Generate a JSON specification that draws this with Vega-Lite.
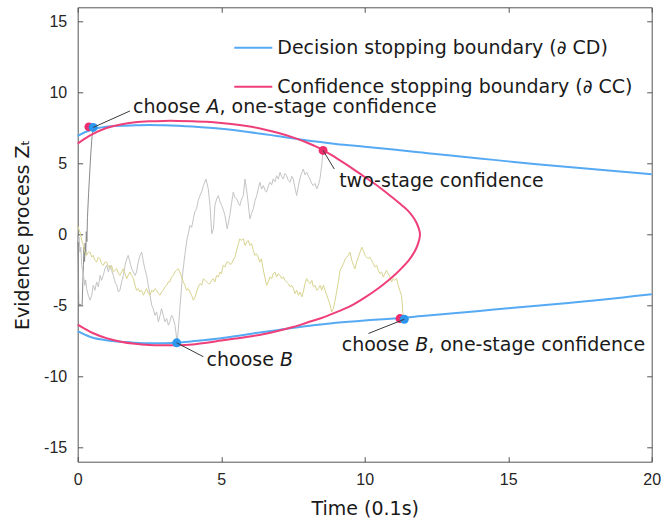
{
"$schema": "https://vega.github.io/schema/vega-lite/v6.json",
"width": 574, "height": 454.4,
"autosize": "none",
"padding": {"left": 77.7, "top": 7.3, "right": 12.3, "bottom": 59.3},
"background": "white",
"config": {
 "view": {"stroke": null},
 "axis": {"grid": false, "domainColor": "#555555", "tickColor": "#555555", "labelColor": "#262626", "titleColor": "#1a1a1a", "labelFont": "Liberation Sans", "labelFontSize": 16, "titleFont": "DejaVu Sans", "titleFontSize": 19, "titleFontWeight": "normal", "tickSize": -5, "domainWidth": 1, "tickWidth": 1, "labelFlush": false}
},
"datasets": {
 "bounds": [
  {"c":"Decision stopping boundary (∂ CD)","s":"u","i":0,"t":0,"z":6.95},{"c":"Decision stopping boundary (∂ CD)","s":"u","i":1,"t":0.25,"z":7.2},{"c":"Decision stopping boundary (∂ CD)","s":"u","i":2,"t":0.5,"z":7.4},{"c":"Decision stopping boundary (∂ CD)","s":"u","i":3,"t":1,"z":7.58},{"c":"Decision stopping boundary (∂ CD)","s":"u","i":4,"t":1.5,"z":7.66},{"c":"Decision stopping boundary (∂ CD)","s":"u","i":5,"t":2,"z":7.7},{"c":"Decision stopping boundary (∂ CD)","s":"u","i":6,"t":2.5,"z":7.72},{"c":"Decision stopping boundary (∂ CD)","s":"u","i":7,"t":3,"z":7.7},{"c":"Decision stopping boundary (∂ CD)","s":"u","i":8,"t":3.5,"z":7.66},{"c":"Decision stopping boundary (∂ CD)","s":"u","i":9,"t":4,"z":7.6},{"c":"Decision stopping boundary (∂ CD)","s":"u","i":10,"t":5,"z":7.44},{"c":"Decision stopping boundary (∂ CD)","s":"u","i":11,"t":6,"z":7.2},{"c":"Decision stopping boundary (∂ CD)","s":"u","i":12,"t":7,"z":6.92},{"c":"Decision stopping boundary (∂ CD)","s":"u","i":13,"t":8,"z":6.62},{"c":"Decision stopping boundary (∂ CD)","s":"u","i":14,"t":9,"z":6.38},{"c":"Decision stopping boundary (∂ CD)","s":"u","i":15,"t":10,"z":6.18},{"c":"Decision stopping boundary (∂ CD)","s":"u","i":16,"t":11,"z":5.98},{"c":"Decision stopping boundary (∂ CD)","s":"u","i":17,"t":12,"z":5.77},{"c":"Decision stopping boundary (∂ CD)","s":"u","i":18,"t":13,"z":5.56},{"c":"Decision stopping boundary (∂ CD)","s":"u","i":19,"t":14,"z":5.36},{"c":"Decision stopping boundary (∂ CD)","s":"u","i":20,"t":15,"z":5.15},{"c":"Decision stopping boundary (∂ CD)","s":"u","i":21,"t":16,"z":4.95},{"c":"Decision stopping boundary (∂ CD)","s":"u","i":22,"t":17,"z":4.77},{"c":"Decision stopping boundary (∂ CD)","s":"u","i":23,"t":18,"z":4.6},{"c":"Decision stopping boundary (∂ CD)","s":"u","i":24,"t":19,"z":4.42},{"c":"Decision stopping boundary (∂ CD)","s":"u","i":25,"t":20,"z":4.25},
  {"c":"Decision stopping boundary (∂ CD)","s":"l","i":0,"t":0,"z":-6.8},{"c":"Decision stopping boundary (∂ CD)","s":"l","i":1,"t":0.25,"z":-7.05},{"c":"Decision stopping boundary (∂ CD)","s":"l","i":2,"t":0.5,"z":-7.25},{"c":"Decision stopping boundary (∂ CD)","s":"l","i":3,"t":1,"z":-7.45},{"c":"Decision stopping boundary (∂ CD)","s":"l","i":4,"t":1.5,"z":-7.56},{"c":"Decision stopping boundary (∂ CD)","s":"l","i":5,"t":2,"z":-7.62},{"c":"Decision stopping boundary (∂ CD)","s":"l","i":6,"t":2.5,"z":-7.66},{"c":"Decision stopping boundary (∂ CD)","s":"l","i":7,"t":3,"z":-7.66},{"c":"Decision stopping boundary (∂ CD)","s":"l","i":8,"t":3.5,"z":-7.62},{"c":"Decision stopping boundary (∂ CD)","s":"l","i":9,"t":4,"z":-7.52},{"c":"Decision stopping boundary (∂ CD)","s":"l","i":10,"t":5,"z":-7.3},{"c":"Decision stopping boundary (∂ CD)","s":"l","i":11,"t":6,"z":-7.0},{"c":"Decision stopping boundary (∂ CD)","s":"l","i":12,"t":7,"z":-6.72},{"c":"Decision stopping boundary (∂ CD)","s":"l","i":13,"t":8,"z":-6.45},{"c":"Decision stopping boundary (∂ CD)","s":"l","i":14,"t":9,"z":-6.22},{"c":"Decision stopping boundary (∂ CD)","s":"l","i":15,"t":10,"z":-6.05},{"c":"Decision stopping boundary (∂ CD)","s":"l","i":16,"t":11,"z":-5.92},{"c":"Decision stopping boundary (∂ CD)","s":"l","i":17,"t":12,"z":-5.74},{"c":"Decision stopping boundary (∂ CD)","s":"l","i":18,"t":13,"z":-5.56},{"c":"Decision stopping boundary (∂ CD)","s":"l","i":19,"t":14,"z":-5.38},{"c":"Decision stopping boundary (∂ CD)","s":"l","i":20,"t":15,"z":-5.2},{"c":"Decision stopping boundary (∂ CD)","s":"l","i":21,"t":16,"z":-5.02},{"c":"Decision stopping boundary (∂ CD)","s":"l","i":22,"t":17,"z":-4.84},{"c":"Decision stopping boundary (∂ CD)","s":"l","i":23,"t":18,"z":-4.64},{"c":"Decision stopping boundary (∂ CD)","s":"l","i":24,"t":19,"z":-4.43},{"c":"Decision stopping boundary (∂ CD)","s":"l","i":25,"t":20,"z":-4.2},
  {"c":"Confidence stopping boundary (∂ CC)","s":"c","i":0,"t":0,"z":6.4},{"c":"Confidence stopping boundary (∂ CC)","s":"c","i":1,"t":0.25,"z":6.75},{"c":"Confidence stopping boundary (∂ CC)","s":"c","i":2,"t":0.5,"z":7.05},{"c":"Confidence stopping boundary (∂ CC)","s":"c","i":3,"t":1,"z":7.5},{"c":"Confidence stopping boundary (∂ CC)","s":"c","i":4,"t":1.5,"z":7.75},{"c":"Confidence stopping boundary (∂ CC)","s":"c","i":5,"t":2,"z":7.9},{"c":"Confidence stopping boundary (∂ CC)","s":"c","i":6,"t":2.5,"z":7.97},{"c":"Confidence stopping boundary (∂ CC)","s":"c","i":7,"t":3,"z":8.0},{"c":"Confidence stopping boundary (∂ CC)","s":"c","i":8,"t":3.5,"z":8.0},{"c":"Confidence stopping boundary (∂ CC)","s":"c","i":9,"t":4,"z":7.98},{"c":"Confidence stopping boundary (∂ CC)","s":"c","i":10,"t":4.5,"z":7.94},{"c":"Confidence stopping boundary (∂ CC)","s":"c","i":11,"t":5,"z":7.86},{"c":"Confidence stopping boundary (∂ CC)","s":"c","i":12,"t":5.5,"z":7.75},{"c":"Confidence stopping boundary (∂ CC)","s":"c","i":13,"t":6,"z":7.6},{"c":"Confidence stopping boundary (∂ CC)","s":"c","i":14,"t":6.5,"z":7.4},{"c":"Confidence stopping boundary (∂ CC)","s":"c","i":15,"t":7,"z":7.15},{"c":"Confidence stopping boundary (∂ CC)","s":"c","i":16,"t":7.5,"z":6.84},{"c":"Confidence stopping boundary (∂ CC)","s":"c","i":17,"t":8,"z":6.46},{"c":"Confidence stopping boundary (∂ CC)","s":"c","i":18,"t":8.55,"z":5.95},{"c":"Confidence stopping boundary (∂ CC)","s":"c","i":19,"t":9,"z":5.4},{"c":"Confidence stopping boundary (∂ CC)","s":"c","i":20,"t":9.5,"z":4.75},{"c":"Confidence stopping boundary (∂ CC)","s":"c","i":21,"t":10,"z":4.05},{"c":"Confidence stopping boundary (∂ CC)","s":"c","i":22,"t":10.5,"z":3.35},{"c":"Confidence stopping boundary (∂ CC)","s":"c","i":23,"t":11,"z":2.55},{"c":"Confidence stopping boundary (∂ CC)","s":"c","i":24,"t":11.3,"z":2.05},{"c":"Confidence stopping boundary (∂ CC)","s":"c","i":25,"t":11.52,"z":1.65},{"c":"Confidence stopping boundary (∂ CC)","s":"c","i":26,"t":11.68,"z":1.25},{"c":"Confidence stopping boundary (∂ CC)","s":"c","i":27,"t":11.8,"z":0.85},{"c":"Confidence stopping boundary (∂ CC)","s":"c","i":28,"t":11.88,"z":0.45},{"c":"Confidence stopping boundary (∂ CC)","s":"c","i":29,"t":11.915,"z":0.2},{"c":"Confidence stopping boundary (∂ CC)","s":"c","i":30,"t":11.925,"z":0},{"c":"Confidence stopping boundary (∂ CC)","s":"c","i":31,"t":11.915,"z":-0.22},{"c":"Confidence stopping boundary (∂ CC)","s":"c","i":32,"t":11.88,"z":-0.5},{"c":"Confidence stopping boundary (∂ CC)","s":"c","i":33,"t":11.8,"z":-0.95},{"c":"Confidence stopping boundary (∂ CC)","s":"c","i":34,"t":11.68,"z":-1.4},{"c":"Confidence stopping boundary (∂ CC)","s":"c","i":35,"t":11.52,"z":-1.85},{"c":"Confidence stopping boundary (∂ CC)","s":"c","i":36,"t":11.32,"z":-2.3},{"c":"Confidence stopping boundary (∂ CC)","s":"c","i":37,"t":11.1,"z":-2.75},{"c":"Confidence stopping boundary (∂ CC)","s":"c","i":38,"t":10.9,"z":-3.1},{"c":"Confidence stopping boundary (∂ CC)","s":"c","i":39,"t":10.5,"z":-3.75},{"c":"Confidence stopping boundary (∂ CC)","s":"c","i":40,"t":10,"z":-4.45},{"c":"Confidence stopping boundary (∂ CC)","s":"c","i":41,"t":9.5,"z":-5.05},{"c":"Confidence stopping boundary (∂ CC)","s":"c","i":42,"t":9,"z":-5.48},{"c":"Confidence stopping boundary (∂ CC)","s":"c","i":43,"t":8.5,"z":-5.88},{"c":"Confidence stopping boundary (∂ CC)","s":"c","i":44,"t":8,"z":-6.2},{"c":"Confidence stopping boundary (∂ CC)","s":"c","i":45,"t":7.5,"z":-6.52},{"c":"Confidence stopping boundary (∂ CC)","s":"c","i":46,"t":7,"z":-6.78},{"c":"Confidence stopping boundary (∂ CC)","s":"c","i":47,"t":6.5,"z":-7.0},{"c":"Confidence stopping boundary (∂ CC)","s":"c","i":48,"t":6,"z":-7.18},{"c":"Confidence stopping boundary (∂ CC)","s":"c","i":49,"t":5.5,"z":-7.33},{"c":"Confidence stopping boundary (∂ CC)","s":"c","i":50,"t":5,"z":-7.47},{"c":"Confidence stopping boundary (∂ CC)","s":"c","i":51,"t":4.5,"z":-7.62},{"c":"Confidence stopping boundary (∂ CC)","s":"c","i":52,"t":4,"z":-7.74},{"c":"Confidence stopping boundary (∂ CC)","s":"c","i":53,"t":3.5,"z":-7.8},{"c":"Confidence stopping boundary (∂ CC)","s":"c","i":54,"t":3,"z":-7.8},{"c":"Confidence stopping boundary (∂ CC)","s":"c","i":55,"t":2.5,"z":-7.78},{"c":"Confidence stopping boundary (∂ CC)","s":"c","i":56,"t":2,"z":-7.7},{"c":"Confidence stopping boundary (∂ CC)","s":"c","i":57,"t":1.5,"z":-7.55},{"c":"Confidence stopping boundary (∂ CC)","s":"c","i":58,"t":1,"z":-7.3},{"c":"Confidence stopping boundary (∂ CC)","s":"c","i":59,"t":0.5,"z":-6.92},{"c":"Confidence stopping boundary (∂ CC)","s":"c","i":60,"t":0.25,"z":-6.65},{"c":"Confidence stopping boundary (∂ CC)","s":"c","i":61,"t":0,"z":-6.35}
 ],
 "traces": [
  {"k":"d","t":0,"z":0},{"k":"d","t":0.02,"z":-2.1},{"k":"d","t":0.035,"z":-4.95},{"k":"d","t":0.08,"z":-4.9},{"k":"d","t":0.12,"z":-5.0},{"k":"d","t":0.155,"z":-4.95},{"k":"d","t":0.18,"z":-3.3},{"k":"d","t":0.2,"z":-2.1},{"k":"d","t":0.22,"z":-0.9},{"k":"d","t":0.24,"z":-1.9},{"k":"d","t":0.26,"z":-0.6},{"k":"d","t":0.28,"z":-1.4},{"k":"d","t":0.3,"z":0.2},{"k":"d","t":0.32,"z":-0.5},{"k":"d","t":0.34,"z":1.2},{"k":"d","t":0.38,"z":2.9},{"k":"d","t":0.42,"z":4.4},{"k":"d","t":0.46,"z":5.8},{"k":"d","t":0.5,"z":6.9},{"k":"d","t":0.54,"z":7.54},
  {"k":"l","t":0,"z":0},{"k":"l","t":0.02,"z":-0.53},{"k":"l","t":0.05,"z":-0.2},{"k":"l","t":0.08,"z":-1.24},{"k":"l","t":0.11,"z":-0.9},{"k":"l","t":0.14,"z":-2.17},{"k":"l","t":0.2,"z":-2.88},{"k":"l","t":0.25,"z":-3.58},{"k":"l","t":0.28,"z":-3.2},{"k":"l","t":0.31,"z":-3.81},{"k":"l","t":0.37,"z":-4.28},{"k":"l","t":0.43,"z":-4.63},{"k":"l","t":0.49,"z":-4.28},{"k":"l","t":0.54,"z":-3.58},{"k":"l","t":0.6,"z":-3.93},{"k":"l","t":0.66,"z":-3.34},{"k":"l","t":0.72,"z":-3.69},{"k":"l","t":0.78,"z":-2.88},{"k":"l","t":0.83,"z":-3.23},{"k":"l","t":0.89,"z":-2.88},{"k":"l","t":0.95,"z":-2.41},{"k":"l","t":1.01,"z":-2.17},{"k":"l","t":1.07,"z":-2.64},{"k":"l","t":1.13,"z":-2.17},{"k":"l","t":1.18,"z":-2.52},{"k":"l","t":1.24,"z":-2.88},{"k":"l","t":1.3,"z":-3.34},{"k":"l","t":1.36,"z":-3.58},{"k":"l","t":1.42,"z":-4.05},{"k":"l","t":1.47,"z":-3.93},{"k":"l","t":1.53,"z":-3.34},{"k":"l","t":1.59,"z":-2.88},{"k":"l","t":1.65,"z":-2.17},{"k":"l","t":1.71,"z":-1.71},{"k":"l","t":1.76,"z":-1.47},{"k":"l","t":1.82,"z":-1.94},{"k":"l","t":1.88,"z":-2.41},{"k":"l","t":1.94,"z":-2.64},{"k":"l","t":2.0,"z":-2.88},{"k":"l","t":2.05,"z":-2.64},{"k":"l","t":2.11,"z":-1.94},{"k":"l","t":2.17,"z":-1.47},{"k":"l","t":2.23,"z":-1.24},{"k":"l","t":2.29,"z":-1.94},{"k":"l","t":2.34,"z":-2.41},{"k":"l","t":2.4,"z":-2.88},{"k":"l","t":2.46,"z":-3.58},{"k":"l","t":2.52,"z":-4.28},{"k":"l","t":2.58,"z":-4.99},{"k":"l","t":2.63,"z":-5.22},{"k":"l","t":2.69,"z":-5.69},{"k":"l","t":2.75,"z":-5.45},{"k":"l","t":2.81,"z":-6.15},{"k":"l","t":2.87,"z":-5.69},{"k":"l","t":2.92,"z":-5.22},{"k":"l","t":2.98,"z":-5.69},{"k":"l","t":3.04,"z":-6.15},{"k":"l","t":3.1,"z":-5.92},{"k":"l","t":3.16,"z":-6.39},{"k":"l","t":3.21,"z":-6.15},{"k":"l","t":3.27,"z":-5.69},{"k":"l","t":3.33,"z":-5.92},{"k":"l","t":3.39,"z":-6.39},{"k":"l","t":3.47,"z":-7.63},{"k":"l","t":3.56,"z":-5.22},{"k":"l","t":3.65,"z":-2.88},{"k":"l","t":3.73,"z":-1.47},{"k":"l","t":3.81,"z":-0.3},{"k":"l","t":3.86,"z":0.1},{"k":"l","t":3.91,"z":0.64},{"k":"l","t":3.97,"z":0.5},{"k":"l","t":4.03,"z":1.1},{"k":"l","t":4.08,"z":1.6},{"k":"l","t":4.14,"z":1.81},{"k":"l","t":4.2,"z":2.4},{"k":"l","t":4.26,"z":2.74},{"k":"l","t":4.32,"z":3.0},{"k":"l","t":4.38,"z":3.44},{"k":"l","t":4.47,"z":3.91},{"k":"l","t":4.55,"z":3.21},{"k":"l","t":4.61,"z":2.04},{"k":"l","t":4.67,"z":0.05},{"k":"l","t":4.73,"z":0.4},{"k":"l","t":4.78,"z":2.04},{"k":"l","t":4.84,"z":2.5},{"k":"l","t":4.9,"z":2.74},{"k":"l","t":4.96,"z":2.3},{"k":"l","t":5.02,"z":2.04},{"k":"l","t":5.08,"z":1.7},{"k":"l","t":5.13,"z":1.34},{"k":"l","t":5.21,"z":0.4},{"k":"l","t":5.3,"z":1.34},{"k":"l","t":5.36,"z":2.2},{"k":"l","t":5.42,"z":2.98},{"k":"l","t":5.48,"z":2.6},{"k":"l","t":5.54,"z":2.51},{"k":"l","t":5.6,"z":2.2},{"k":"l","t":5.65,"z":2.04},{"k":"l","t":5.71,"z":2.5},{"k":"l","t":5.77,"z":2.74},{"k":"l","t":5.83,"z":3.91},{"k":"l","t":5.91,"z":2.74},{"k":"l","t":6.0,"z":1.1},{"k":"l","t":6.06,"z":1.5},{"k":"l","t":6.12,"z":1.81},{"k":"l","t":6.18,"z":2.4},{"k":"l","t":6.24,"z":2.74},{"k":"l","t":6.3,"z":3.3},{"k":"l","t":6.35,"z":3.68},{"k":"l","t":6.41,"z":3.2},{"k":"l","t":6.47,"z":3.44},{"k":"l","t":6.53,"z":3.1},{"k":"l","t":6.58,"z":2.98},{"k":"l","t":6.64,"z":3.4},{"k":"l","t":6.7,"z":3.68},{"k":"l","t":6.76,"z":3.5},{"k":"l","t":6.81,"z":3.91},{"k":"l","t":6.87,"z":3.7},{"k":"l","t":6.93,"z":4.14},{"k":"l","t":6.99,"z":3.9},{"k":"l","t":7.05,"z":4.38},{"k":"l","t":7.1,"z":4.1},{"k":"l","t":7.16,"z":3.91},{"k":"l","t":7.22,"z":4.3},{"k":"l","t":7.28,"z":4.14},{"k":"l","t":7.34,"z":3.8},{"k":"l","t":7.4,"z":3.68},{"k":"l","t":7.46,"z":4.1},{"k":"l","t":7.51,"z":3.91},{"k":"l","t":7.57,"z":3.3},{"k":"l","t":7.63,"z":2.74},{"k":"l","t":7.69,"z":3.4},{"k":"l","t":7.74,"z":3.91},{"k":"l","t":7.8,"z":4.3},{"k":"l","t":7.86,"z":4.61},{"k":"l","t":7.92,"z":4.2},{"k":"l","t":7.98,"z":4.38},{"k":"l","t":8.04,"z":4.1},{"k":"l","t":8.09,"z":3.91},{"k":"l","t":8.15,"z":3.6},{"k":"l","t":8.21,"z":3.44},{"k":"l","t":8.27,"z":3.6},{"k":"l","t":8.33,"z":3.21},{"k":"l","t":8.39,"z":3.5},{"k":"l","t":8.44,"z":3.91},{"k":"l","t":8.5,"z":4.84},{"k":"l","t":8.55,"z":5.92},
  {"k":"y","t":0,"z":0.63},{"k":"y","t":0.03,"z":0.4},{"k":"y","t":0.08,"z":0.17},{"k":"y","t":0.14,"z":-0.42},{"k":"y","t":0.2,"z":-0.77},{"k":"y","t":0.25,"z":-1.24},{"k":"y","t":0.31,"z":-1.47},{"k":"y","t":0.37,"z":-1.24},{"k":"y","t":0.43,"z":-1.24},{"k":"y","t":0.49,"z":-1.59},{"k":"y","t":0.54,"z":-1.47},{"k":"y","t":0.6,"z":-1.82},{"k":"y","t":0.66,"z":-1.94},{"k":"y","t":0.72,"z":-1.59},{"k":"y","t":0.78,"z":-1.71},{"k":"y","t":0.83,"z":-2.06},{"k":"y","t":0.89,"z":-2.17},{"k":"y","t":0.95,"z":-1.94},{"k":"y","t":1.01,"z":-1.94},{"k":"y","t":1.07,"z":-2.29},{"k":"y","t":1.13,"z":-2.41},{"k":"y","t":1.18,"z":-2.17},{"k":"y","t":1.24,"z":-2.64},{"k":"y","t":1.3,"z":-2.52},{"k":"y","t":1.36,"z":-2.41},{"k":"y","t":1.42,"z":-2.76},{"k":"y","t":1.47,"z":-2.88},{"k":"y","t":1.53,"z":-2.64},{"k":"y","t":1.59,"z":-2.41},{"k":"y","t":1.65,"z":-2.76},{"k":"y","t":1.71,"z":-3.11},{"k":"y","t":1.76,"z":-2.88},{"k":"y","t":1.82,"z":-2.64},{"k":"y","t":1.88,"z":-2.88},{"k":"y","t":1.94,"z":-3.11},{"k":"y","t":2.0,"z":-3.58},{"k":"y","t":2.05,"z":-3.93},{"k":"y","t":2.11,"z":-3.81},{"k":"y","t":2.17,"z":-4.05},{"k":"y","t":2.23,"z":-3.93},{"k":"y","t":2.29,"z":-4.28},{"k":"y","t":2.34,"z":-4.05},{"k":"y","t":2.4,"z":-3.81},{"k":"y","t":2.46,"z":-4.16},{"k":"y","t":2.52,"z":-4.28},{"k":"y","t":2.58,"z":-3.93},{"k":"y","t":2.63,"z":-4.05},{"k":"y","t":2.69,"z":-3.81},{"k":"y","t":2.75,"z":-3.93},{"k":"y","t":2.81,"z":-4.16},{"k":"y","t":2.87,"z":-4.28},{"k":"y","t":2.92,"z":-4.05},{"k":"y","t":2.98,"z":-3.93},{"k":"y","t":3.04,"z":-3.69},{"k":"y","t":3.1,"z":-3.58},{"k":"y","t":3.16,"z":-3.34},{"k":"y","t":3.21,"z":-3.34},{"k":"y","t":3.27,"z":-2.99},{"k":"y","t":3.33,"z":-2.88},{"k":"y","t":3.39,"z":-2.64},{"k":"y","t":3.44,"z":-2.52},{"k":"y","t":3.5,"z":-2.41},{"k":"y","t":3.56,"z":-2.64},{"k":"y","t":3.62,"z":-2.99},{"k":"y","t":3.68,"z":-3.34},{"k":"y","t":3.74,"z":-3.58},{"k":"y","t":3.79,"z":-3.93},{"k":"y","t":3.85,"z":-3.81},{"k":"y","t":3.91,"z":-4.05},{"k":"y","t":3.97,"z":-4.28},{"k":"y","t":4.03,"z":-4.63},{"k":"y","t":4.09,"z":-4.4},{"k":"y","t":4.14,"z":-4.05},{"k":"y","t":4.2,"z":-3.69},{"k":"y","t":4.26,"z":-3.46},{"k":"y","t":4.32,"z":-3.58},{"k":"y","t":4.38,"z":-3.11},{"k":"y","t":4.44,"z":-3.23},{"k":"y","t":4.49,"z":-3.34},{"k":"y","t":4.55,"z":-3.46},{"k":"y","t":4.61,"z":-3.46},{"k":"y","t":4.67,"z":-3.23},{"k":"y","t":4.72,"z":-3.11},{"k":"y","t":4.78,"z":-3.34},{"k":"y","t":4.84,"z":-2.88},{"k":"y","t":4.9,"z":-2.99},{"k":"y","t":4.96,"z":-2.64},{"k":"y","t":5.01,"z":-2.76},{"k":"y","t":5.07,"z":-2.17},{"k":"y","t":5.13,"z":-2.29},{"k":"y","t":5.19,"z":-1.94},{"k":"y","t":5.25,"z":-1.94},{"k":"y","t":5.3,"z":-2.1},{"k":"y","t":5.36,"z":-2.06},{"k":"y","t":5.42,"z":-1.8},{"k":"y","t":5.48,"z":-1.59},{"k":"y","t":5.54,"z":-1.1},{"k":"y","t":5.6,"z":-0.65},{"k":"y","t":5.65,"z":-0.3},{"k":"y","t":5.71,"z":-0.42},{"k":"y","t":5.77,"z":-0.3},{"k":"y","t":5.83,"z":-0.77},{"k":"y","t":5.89,"z":-0.53},{"k":"y","t":5.94,"z":-0.42},{"k":"y","t":6.0,"z":-0.77},{"k":"y","t":6.06,"z":-0.65},{"k":"y","t":6.12,"z":-1.12},{"k":"y","t":6.17,"z":-1.47},{"k":"y","t":6.23,"z":-1.36},{"k":"y","t":6.29,"z":-1.59},{"k":"y","t":6.34,"z":-1.94},{"k":"y","t":6.4,"z":-1.71},{"k":"y","t":6.46,"z":-2.41},{"k":"y","t":6.52,"z":-2.99},{"k":"y","t":6.58,"z":-3.58},{"k":"y","t":6.64,"z":-3.34},{"k":"y","t":6.7,"z":-2.99},{"k":"y","t":6.76,"z":-3.11},{"k":"y","t":6.81,"z":-2.76},{"k":"y","t":6.87,"z":-2.64},{"k":"y","t":6.93,"z":-2.99},{"k":"y","t":6.99,"z":-2.76},{"k":"y","t":7.05,"z":-2.88},{"k":"y","t":7.11,"z":-3.11},{"k":"y","t":7.17,"z":-2.99},{"k":"y","t":7.22,"z":-3.23},{"k":"y","t":7.28,"z":-3.34},{"k":"y","t":7.34,"z":-3.46},{"k":"y","t":7.4,"z":-3.69},{"k":"y","t":7.46,"z":-3.58},{"k":"y","t":7.52,"z":-3.81},{"k":"y","t":7.57,"z":-4.16},{"k":"y","t":7.63,"z":-3.93},{"k":"y","t":7.69,"z":-4.28},{"k":"y","t":7.75,"z":-4.05},{"k":"y","t":7.81,"z":-4.4},{"k":"y","t":7.86,"z":-4.05},{"k":"y","t":7.92,"z":-3.46},{"k":"y","t":7.98,"z":-3.11},{"k":"y","t":8.04,"z":-3.34},{"k":"y","t":8.1,"z":-3.46},{"k":"y","t":8.16,"z":-3.23},{"k":"y","t":8.21,"z":-3.69},{"k":"y","t":8.27,"z":-3.58},{"k":"y","t":8.33,"z":-3.93},{"k":"y","t":8.39,"z":-3.81},{"k":"y","t":8.45,"z":-3.58},{"k":"y","t":8.5,"z":-3.93},{"k":"y","t":8.56,"z":-3.58},{"k":"y","t":8.62,"z":-3.93},{"k":"y","t":8.68,"z":-4.28},{"k":"y","t":8.74,"z":-4.63},{"k":"y","t":8.8,"z":-4.99},{"k":"y","t":8.85,"z":-5.45},{"k":"y","t":8.91,"z":-5.22},{"k":"y","t":8.97,"z":-4.63},{"k":"y","t":9.03,"z":-3.93},{"k":"y","t":9.09,"z":-3.23},{"k":"y","t":9.14,"z":-2.52},{"k":"y","t":9.2,"z":-2.29},{"k":"y","t":9.26,"z":-2.06},{"k":"y","t":9.32,"z":-1.71},{"k":"y","t":9.38,"z":-1.59},{"k":"y","t":9.43,"z":-1.47},{"k":"y","t":9.49,"z":-1.24},{"k":"y","t":9.55,"z":-1.82},{"k":"y","t":9.61,"z":-2.17},{"k":"y","t":9.66,"z":-2.41},{"k":"y","t":9.72,"z":-1.94},{"k":"y","t":9.78,"z":-1.59},{"k":"y","t":9.84,"z":-1.24},{"k":"y","t":9.9,"z":-0.89},{"k":"y","t":9.95,"z":-1.12},{"k":"y","t":10.01,"z":-1.47},{"k":"y","t":10.07,"z":-1.59},{"k":"y","t":10.13,"z":-1.71},{"k":"y","t":10.18,"z":-1.59},{"k":"y","t":10.24,"z":-1.82},{"k":"y","t":10.3,"z":-2.06},{"k":"y","t":10.36,"z":-2.29},{"k":"y","t":10.42,"z":-2.17},{"k":"y","t":10.47,"z":-2.52},{"k":"y","t":10.53,"z":-2.76},{"k":"y","t":10.59,"z":-2.64},{"k":"y","t":10.65,"z":-2.99},{"k":"y","t":10.7,"z":-2.76},{"k":"y","t":10.76,"z":-2.52},{"k":"y","t":10.82,"z":-2.76},{"k":"y","t":10.88,"z":-2.99},{"k":"y","t":10.94,"z":-3.34},{"k":"y","t":10.99,"z":-3.11},{"k":"y","t":11.05,"z":-3.23},{"k":"y","t":11.11,"z":-3.11},{"k":"y","t":11.17,"z":-3.58},{"k":"y","t":11.22,"z":-3.93},{"k":"y","t":11.28,"z":-4.28},{"k":"y","t":11.31,"z":-4.87},{"k":"y","t":11.33,"z":-5.57},{"k":"y","t":11.36,"z":-5.92}
 ],
 "dots": [
  {"kind":"pink","t":0.39,"z":7.58},{"kind":"pink","t":8.55,"z":5.92},{"kind":"pink","t":11.23,"z":-5.92},
  {"kind":"blue","t":0.54,"z":7.54},{"kind":"blue","t":3.45,"z":-7.63},{"kind":"blue","t":11.38,"z":-5.97}
 ],
 "ann": [
  {"pre":"choose ","it":"A","post":", one-stage confidence","t":0.54,"z":7.54,"lt":1.82,"lz":8.7,"tx":1.93,"tz":8.98},
  {"pre":"two-stage confidence","it":"","post":"","t":8.55,"z":5.92,"lt":8.94,"lz":4.61,"tx":9.11,"tz":3.79},
  {"pre":"choose ","it":"B","post":"","t":3.45,"z":-7.63,"lt":4.38,"lz":-8.61,"tx":4.49,"tz":-8.85},
  {"pre":"choose ","it":"B","post":", one-stage confidence","t":11.38,"z":-5.97,"lt":10.13,"lz":-6.97,"tx":9.2,"tz":-7.79}
 ]
},
"layer": [
 {
  "mark": {"type": "rule", "color": "#808080", "strokeWidth": 1.5, "strokeDash": [8, 5]},
  "encoding": {"y": {"datum": 0, "type": "quantitative", "scale": {"domain": [-16, 16], "nice": false, "zero": false}, "axis": null}}
 },
 {
  "data": {"name": "traces"},
  "mark": {"type": "line", "strokeWidth": 1, "interpolate": "linear"},
  "encoding": {
   "x": {"field": "t", "type": "quantitative", "scale": {"domain": [0, 20], "nice": false, "zero": false}, "axis": null},
   "y": {"field": "z", "type": "quantitative", "scale": {"domain": [-16, 16], "nice": false, "zero": false}, "axis": null},
   "detail": {"field": "k"},
   "color": {"field": "k", "type": "nominal", "scale": {"domain": ["y", "l", "d"], "range": ["#d8d48e", "#c4c4c4", "#8a8a8a"]}, "legend": null}
  }
 },
 {
  "data": {"name": "bounds"},
  "mark": {"type": "line", "strokeWidth": 2, "interpolate": "catmull-rom"},
  "encoding": {
   "x": {"field": "t", "type": "quantitative", "scale": {"domain": [0, 20], "nice": false, "zero": false},
     "axis": {"orient": "bottom", "values": [0, 5, 10, 15, 20], "title": "Time (0.1s)", "labelPadding": 15, "titlePadding": 12}},
   "y": {"field": "z", "type": "quantitative", "scale": {"domain": [-16, 16], "nice": false, "zero": false},
     "axis": {"orient": "left", "values": [-15, -10, -5, 0, 5, 10, 15], "title": "Evidence process Zₜ", "labelPadding": 16, "labelExpr": "'' + datum.value", "titlePadding": 11}},
   "detail": {"field": "s"},
   "order": {"field": "i", "type": "quantitative"},
   "stroke": {"field": "c", "type": "nominal",
     "scale": {"domain": ["Decision stopping boundary (∂ CD)", "Confidence stopping boundary (∂ CC)"], "range": ["#55aaf3", "#ef3f79"]},
     "legend": {"orient": "none", "legendX": 155.6, "legendY": 20.4, "title": null, "symbolType": "stroke", "symbolSize": 1444, "symbolStrokeWidth": 2, "labelFont": "DejaVu Sans", "labelFontSize": 19, "labelColor": "#1a1a1a", "labelOffset": 4, "rowPadding": 9, "padding": 0, "labelLimit": 600}}
  }
 },
 {
  "data": {"name": "dots"},
  "mark": {"type": "circle", "size": 80, "opacity": 1},
  "encoding": {
   "x": {"field": "t", "type": "quantitative", "scale": {"domain": [0, 20], "nice": false, "zero": false},
     "axis": {"orient": "top", "values": [0, 5, 10, 15, 20], "labels": false, "title": null}},
   "y": {"field": "z", "type": "quantitative", "scale": {"domain": [-16, 16], "nice": false, "zero": false},
     "axis": {"orient": "right", "values": [-15, -10, -5, 0, 5, 10, 15], "labels": false, "title": null}},
   "fill": {"field": "kind", "type": "nominal", "scale": {"domain": ["pink", "blue"], "range": ["#ec2e6c", "#2d96ee"]}, "legend": null}
  }
 },
 {
  "data": {"name": "ann"},
  "mark": {"type": "rule", "color": "#3a3a3a", "strokeWidth": 1},
  "encoding": {
   "x": {"field": "t", "type": "quantitative", "scale": {"domain": [0, 20], "nice": false, "zero": false}, "axis": null},
   "y": {"field": "z", "type": "quantitative", "scale": {"domain": [-16, 16], "nice": false, "zero": false}, "axis": null},
   "x2": {"field": "lt"},
   "y2": {"field": "lz"}
  }
 },
 {
  "data": {"name": "ann"},
  "mark": {"type": "text", "align": "left", "baseline": "middle", "font": "DejaVu Sans", "fontSize": 19, "color": "#1a1a1a"},
  "encoding": {
   "x": {"field": "tx", "type": "quantitative", "scale": {"domain": [0, 20], "nice": false, "zero": false}, "axis": null},
   "y": {"field": "tz", "type": "quantitative", "scale": {"domain": [-16, 16], "nice": false, "zero": false}, "axis": null},
   "text": {"field": "pre"}
  }
 },
 {
  "data": {"name": "ann"},
  "mark": {"type": "text", "align": "left", "baseline": "middle", "font": "DejaVu Sans", "fontStyle": "italic", "fontSize": 19, "color": "#1a1a1a", "dx": 73.4},
  "encoding": {
   "x": {"field": "tx", "type": "quantitative", "scale": {"domain": [0, 20], "nice": false, "zero": false}, "axis": null},
   "y": {"field": "tz", "type": "quantitative", "scale": {"domain": [-16, 16], "nice": false, "zero": false}, "axis": null},
   "text": {"field": "it"}
  }
 },
 {
  "data": {"name": "ann"},
  "mark": {"type": "text", "align": "left", "baseline": "middle", "font": "DejaVu Sans", "fontSize": 19, "color": "#1a1a1a", "dx": 86.4},
  "encoding": {
   "x": {"field": "tx", "type": "quantitative", "scale": {"domain": [0, 20], "nice": false, "zero": false}, "axis": null},
   "y": {"field": "tz", "type": "quantitative", "scale": {"domain": [-16, 16], "nice": false, "zero": false}, "axis": null},
   "text": {"field": "post"}
  }
 }
],
"resolve": {"axis": {"x": "independent", "y": "independent"}}
}
